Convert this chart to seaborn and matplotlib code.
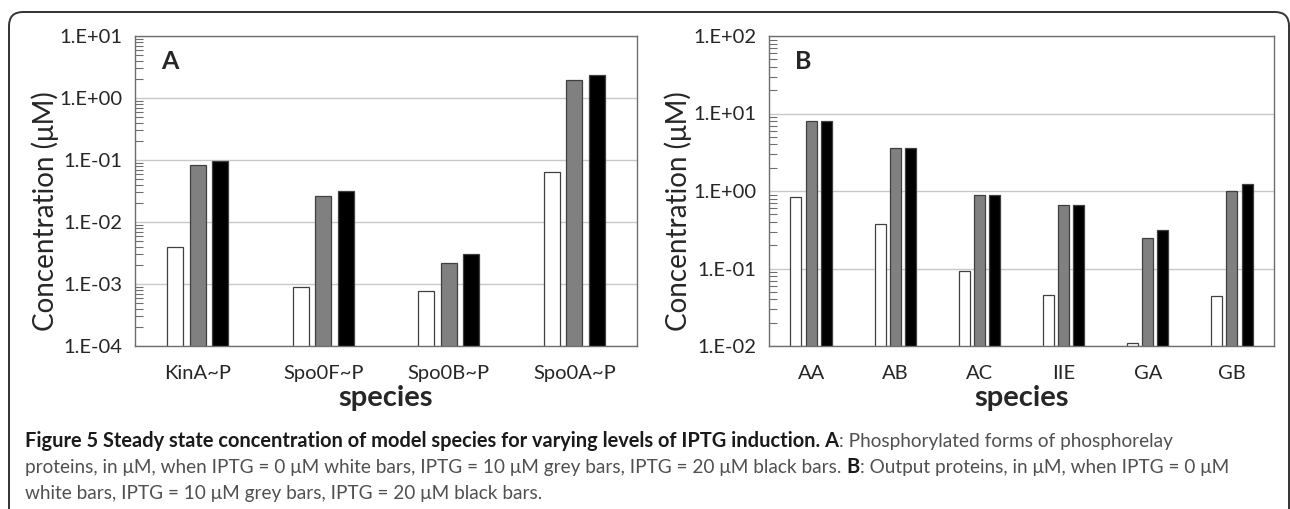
import numpy as np
import pandas as pd
import matplotlib
matplotlib.use("Agg")
import matplotlib.pyplot as plt
import matplotlib.ticker as mticker
from matplotlib.patches import FancyBboxPatch
from matplotlib.transforms import IdentityTransform
import seaborn as sns

# ---- data (concentration in uM) ----
iptg_levels = ["0", "10", "20"]

species_a = ["KinA~P", "Spo0F~P", "Spo0B~P", "Spo0A~P"]
a_iptg0 = [3.95e-3, 9.1e-4, 7.7e-4, 0.065]
a_iptg10 = [0.084, 0.0266, 2.18e-3, 1.95]
a_iptg20 = [0.098, 0.0316, 3.09e-3, 2.32]

species_b = ["AA", "AB", "AC", "IIE", "GA", "GB"]
b_iptg0 = [0.828, 0.371, 0.093, 0.0456, 0.0110, 0.0443]
b_iptg10 = [7.96, 3.6, 0.879, 0.659, 0.249, 1.0]
b_iptg20 = [7.96, 3.6, 0.879, 0.659, 0.31, 1.24]


def long_form(species, v0, v10, v20):
    rows = []
    for lvl, vals in zip(iptg_levels, [v0, v10, v20]):
        for s, v in zip(species, vals):
            rows.append({"species": s, "IPTG": lvl, "conc": v})
    return pd.DataFrame(rows)


df_a = long_form(species_a, a_iptg0, a_iptg10, a_iptg20)
df_b = long_form(species_b, b_iptg0, b_iptg10, b_iptg20)

sns.set_style("white")
plt.rcParams["font.family"] = ["Lato", "DejaVu Sans"]

W, H = 1290, 509
fig = plt.figure(figsize=(W / 100, H / 100), dpi=100)

palette = {"0": "white", "10": "#808080", "20": "black"}


def decade_label(v, pos):
    return "1.E%+03d" % int(round(np.log10(v)))


def draw_panel(rect, df, species, ylim, letter):
    ax = fig.add_axes(rect)
    sns.barplot(data=df, x="species", y="conc", hue="IPTG", order=species,
                hue_order=iptg_levels, palette=palette, width=0.54, gap=0.28,
                edgecolor="#404040", linewidth=0.9, errorbar=None,
                legend=False, ax=ax)
    ax.set_yscale("log")
    ax.set_ylim(*ylim)
    ax.set_xlim(-0.5, len(species) - 0.5)
    ax.yaxis.set_major_locator(mticker.LogLocator(base=10, numticks=20))
    ax.yaxis.set_minor_locator(mticker.LogLocator(base=10, subs=np.arange(2, 10), numticks=20))
    ax.yaxis.set_major_formatter(mticker.FuncFormatter(decade_label))
    ax.yaxis.set_minor_formatter(mticker.NullFormatter())
    ax.grid(axis="y", which="major", color="#c8c8c8", linewidth=1.0)
    ax.set_axisbelow(True)
    for sp in ax.spines.values():
        sp.set_color("#6e6e6e")
        sp.set_linewidth(1.0)
    ax.tick_params(axis="y", which="major", direction="out", length=3,
                   width=1, color="#6e6e6e", labelsize=14.5, pad=6)
    ax.tick_params(axis="y", which="minor", direction="in", length=6,
                   width=0.8, color="#6e6e6e", left=True)
    ax.tick_params(axis="x", length=0, labelsize=14.5, pad=14)
    ax.set_ylabel("Concentration (\u03bcM)", fontsize=20)
    ax.yaxis.set_label_coords(-0.152, 0.435)
    ax.set_xlabel("species", fontsize=21, fontweight="bold")
    ax.xaxis.set_label_coords(0.5, -0.125)
    ax.text(0.052, 0.955, letter, transform=ax.transAxes, fontsize=18,
            fontweight="bold", va="top", ha="left")
    return ax


ax_a = draw_panel([135 / W, 1 - 346 / H, 502 / W, 310 / H], df_a, species_a, (1e-4, 1e1), "A")
ax_b = draw_panel([769 / W, 1 - 346 / H, 505 / W, 310 / H], df_b, species_b, (1e-2, 1e2), "B")

# ---- rounded frame around the figure ----
frame = FancyBboxPatch((9, -30), 1280, H - 12 + 30, boxstyle="round,pad=0,rounding_size=14",
                       transform=IdentityTransform(), fill=False, edgecolor="#333333",
                       linewidth=1.4)
fig.add_artist(frame)

# ---- caption ----
renderer = fig.canvas.get_renderer()
bold_size = 14.4
normal_size = 13.7
caption_lines = [
    [("Figure 5 Steady state concentration of model species for varying levels of IPTG induction. A", True),
     (": Phosphorylated forms of phosphorelay", False)],
    [("proteins, in \u03bcM, when IPTG = 0 \u03bcM white bars, IPTG = 10 \u03bcM grey bars, IPTG = 20 \u03bcM black bars. ", False),
     ("B", True),
     (": Output proteins, in \u03bcM, when IPTG = 0 \u03bcM", False)],
    [("white bars, IPTG = 10 \u03bcM grey bars, IPTG = 20 \u03bcM black bars.", False)],
]
line_y = [441, 467, 493]
for parts, y in zip(caption_lines, line_y):
    x = 25
    for txt, bold in parts:
        t = fig.text(x / W, 1 - y / H, txt,
                     fontsize=bold_size if bold else normal_size,
                     fontweight="bold" if bold else "normal",
                     color="#1a1a1a" if bold else "#505050", va="center", ha="left")
        x += t.get_window_extent(renderer).width

fig.savefig("out.png", dpi=100)
